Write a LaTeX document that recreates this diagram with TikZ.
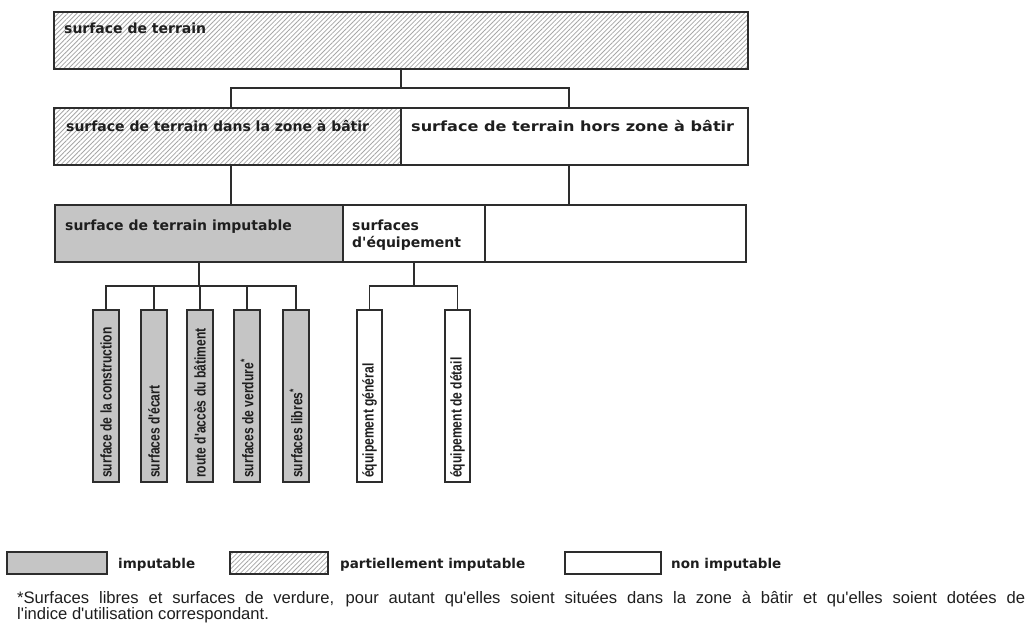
\documentclass[tikz,border=0pt]{standalone}
\usepackage{fontspec}
\usetikzlibrary{patterns.meta}
\newfontfamily\lblfont{DejaVu Sans}
\newfontfamily\leaffont{Liberation Sans}[FakeStretch=0.78]
\newfontfamily\notefont{Liberation Sans}
\definecolor{impgray}{RGB}{197,197,197}
\definecolor{edge}{RGB}{45,45,45}
\definecolor{ink}{RGB}{30,30,30}
\tikzset{
  bx/.style={draw=edge, line width=1.7pt, inner sep=0pt, outer sep=0pt, anchor=north west, fill=white},
  imp/.style={bx, fill=impgray},
  part/.style={bx, pattern={Lines[angle=45, distance=3.3pt, line width=0.8pt]}, pattern color=black!35},
  lbl/.style={anchor=base west, inner sep=0pt, text=ink, font=\lblfont\bfseries\fontsize{14}{17}\selectfont},
  leaf/.style={anchor=west, rotate=90, inner sep=0pt, text=ink, font=\leaffont\bfseries\fontsize{15.5}{17}\selectfont},
  link/.style={draw=edge, line width=1.7pt},
  legtxt/.style={anchor=base west, inner sep=0pt, text=ink, font=\lblfont\bfseries\fontsize{13.5}{16}\selectfont},
  note/.style={anchor=base west, inner sep=0pt, text=ink, font=\notefont\fontsize{16.6}{18}\selectfont}
}
\begin{document}
\begin{tikzpicture}[x=1pt,y=-1pt]
\useasboundingbox (0,0) rectangle (1029,627);
% level 1
\node[part, minimum width=694pt, minimum height=57pt] (A) at (54,12) {};
\node[lbl] (tA) at (64,33) {surface de terrain};
% level 2
\node[part, minimum width=347pt, minimum height=57pt] (B1) at (54,108) {};
\node[bx, minimum width=347pt, minimum height=57pt] (B2) at (401,108) {};
\node[lbl] (tB1) at (66,131) {surface de terrain dans la zone à bâtir};
\node[lbl] (tB2) at (411,131) {\scalebox{1.15}[1]{surface de terrain hors zone à bâtir}};
% level 3
\node[imp, minimum width=288pt, minimum height=57pt] (C1) at (55,205) {};
\node[bx, minimum width=142pt, minimum height=57pt] (C2) at (343,205) {};
\node[bx, minimum width=261pt, minimum height=57pt] (C3) at (485,205) {};
\node[lbl] (tC1) at (65,230) {surface de terrain imputable};
\node[lbl, align=left] (tC2) at (352,247) {surfaces\\[-0.5pt]d'équipement};
% leaves
\node[imp, minimum width=26pt, minimum height=172pt] (L1) at (93,310) {};
\node[imp, minimum width=26pt, minimum height=172pt] (L2) at (141,310) {};
\node[imp, minimum width=26pt, minimum height=172pt] (L3) at (187,310) {};
\node[imp, minimum width=26pt, minimum height=172pt] (L4) at (234,310) {};
\node[imp, minimum width=26pt, minimum height=172pt] (L5) at (283,310) {};
\node[bx, minimum width=25pt, minimum height=172pt] (E1) at (357,310) {};
\node[bx, minimum width=25pt, minimum height=172pt] (E2) at (445,310) {};
\node[leaf] (tL1) at ([yshift=4pt]L1.south) {surface de la construction};
\node[leaf] (tL2) at ([yshift=4pt]L2.south) {surfaces d'écart};
\node[leaf] (tL3) at ([yshift=4pt]L3.south) {route d'accès du bâtiment};
\node[leaf] (tL4) at ([yshift=4pt]L4.south) {surfaces de verdure\textsuperscript{*}};
\node[leaf] (tL5) at ([yshift=4pt]L5.south) {surfaces libres\textsuperscript{*}};
\node[leaf] (tE1) at ([yshift=4pt]E1.south) {équipement général};
\node[leaf] (tE2) at ([yshift=4pt]E2.south) {équipement de détail};
% connectors
\coordinate (jA) at (401,88);
\coordinate (jC) at (199,286);
\coordinate (jE) at (414,286);
\draw[link] (A.south) -- (jA);
\draw[link] ([xshift=3.5pt]B1.north) |- (jA) -| ([xshift=-5.5pt]B2.north);
\draw[link] ([xshift=3.5pt]B1.south) -- ([xshift=3.5pt]B1.south |- C1.north);
\draw[link] ([xshift=-5.5pt]B2.south) -- ([xshift=-5.5pt]B2.south |- C3.north);
\draw[link] (C1.south) -- (jC);
\draw[link] (L1.north) |- (jC) -| (L5.north);
\draw[link] (L2.north) -- (L2.north |- jC);
\draw[link] (L3.north) -- (L3.north |- jC);
\draw[link] (L4.north) -- (L4.north |- jC);
\draw[link] (C2.south) -- (jE);
\draw[link] (E1.north) |- (jE) -| (E2.north);
% legend
\node[imp, minimum width=100pt, minimum height=22pt] (G1) at (7,552) {};
\node[part, minimum width=98pt, minimum height=22pt] (G2) at (230,552) {};
\node[bx, minimum width=96pt, minimum height=22pt] (G3) at (565,552) {};
\node[legtxt] (tG1) at (118,568) {imputable};
\node[legtxt] (tG2) at (340,568) {partiellement imputable};
\node[legtxt] (tG3) at (671,568) {non imputable};
% footnote
\node[note] (n1) at (17,603) {\makebox[1008pt][s]{*Surfaces libres et surfaces de verdure, pour autant qu'elles soient situées dans la zone à bâtir et qu'elles soient dotées de}};
\node[note] (n2) at (17,619) {l'indice d'utilisation correspondant.};
\end{tikzpicture}
\end{document}
